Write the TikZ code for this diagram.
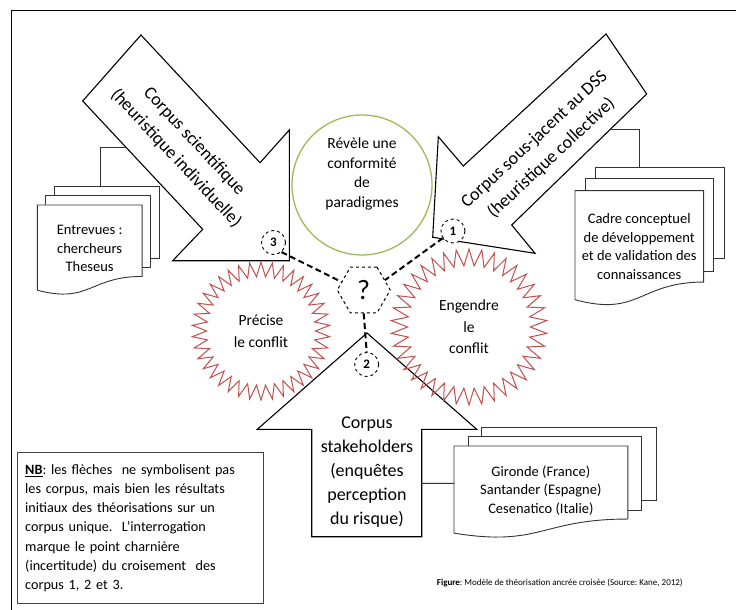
\documentclass[tikz,border=0pt]{standalone}
\usepackage{fontspec}
\setmainfont{Carlito}
\usepackage{tikz}
\usepackage{xcolor}
\usetikzlibrary{shapes.geometric}

\definecolor{burstred}{HTML}{C0504D}
\definecolor{olivegreen}{HTML}{9BBB59}

\begin{document}
\frenchspacing
\begin{tikzpicture}[x=1pt, y=-1pt]

    % Define style for different elements
    \tikzstyle{bigarrow} = [draw=black, line width=1.1pt, line join=miter]
    \tikzstyle{arrowtext} = [align=center, font=\fontsize{18}{25}\selectfont]
    \tikzstyle{sheet} = [draw=black!80, line width=0.9pt, fill=white]
    \tikzstyle{doctext} = [align=center, font=\fontsize{14.5}{18.8}\selectfont]
    \tikzstyle{burst} = [star, star points=38, star point ratio=1.27, draw=burstred, line width=1pt, align=center, font=\fontsize{15.5}{21.5}\selectfont]
    \tikzstyle{link} = [line width=2pt, dash pattern=on 6pt off 3.5pt]
    \tikzstyle{numcirc} = [circle, draw, dashed, line width=0.9pt, fill=white, minimum size=24pt, inner sep=0pt, font=\bfseries\fontsize{13}{13}\selectfont]
    \tikzstyle{wire} = [draw=black!80, line width=0.9pt]

    \useasboundingbox (0,0) rectangle (736,610);
    \draw[line width=1.6pt] (11.5,610) -- (11.5,10.5) -- (736,10.5);

    % Draw the three corpus arrows
    \draw[bigarrow] (141,35) -- (260,162.7) -- (289.3,130) -- (289.3,260.7) -- (172.7,260.7) -- (202.7,229.3) -- (82.7,101) -- cycle;
    \draw[bigarrow] (606,34) -- (463.3,166) -- (438.3,136.7) -- (432.7,237.3) -- (535,253.3) -- (511.7,225) -- (646.7,94) -- cycle;
    \draw[bigarrow] (367,333) -- (476.7,429.3) -- (421.7,429.3) -- (421.7,536.7) -- (311.7,536.7) -- (311.7,429.3) -- (257.3,429.3) -- cycle;
    \node[arrowtext, rotate=-47] (scitext) at (185,150) {Corpus scientifique\\(heuristique individuelle)};
    \node[arrowtext, rotate=43] (dsstext) at (543,149) {Corpus sous-jacent au DSS\\(heuristique collective)};
    \node[arrowtext, font=\fontsize{18}{24}\selectfont] (staketext) at (367,472) {Corpus\\stakeholders\\(enquêtes\\perception\\du risque)};
    \coordinate (scijoin) at (126,147.3);
    \coordinate (dssjoin) at (610.4,129.3);
    \coordinate (stakejoin) at (421.7,483.3);

    % Document stacks
    \foreach \nm/\lx/\ty/\w/\h/\cx/\cy/\txt in {
        docsci/37.3/186.7/121.7/107.6/0.52/0/{Entrevues :\\chercheurs\\Theseus},
        docdss/575/167.3/149.3/137.6/0.43/0/{Cadre conceptuel\\de développement\\et de validation des\\connaissances},
        docstake/454/427.3/202/110/0/0.51/{Gironde (France)\\Santander (Espagne)\\Cesenatico (Italie)}}
    {
        \begin{scope}[shift={(\lx,\ty)}, x=\w*1pt, y=-\h*1pt]
            \filldraw[sheet] (0.138,0) rectangle (1,0.666);
            \filldraw[sheet] (0.071,0.084) rectangle (0.926,0.755);
            \filldraw[sheet] (0,0.17) -- (0.861,0.17) -- (0.861,0.834) .. controls (0.43,0.834) and (0.43,1.09) .. (0,0.962) -- cycle;
            \node[doctext] (\nm) at (0.43,0.575) {\txt};
            \coordinate (\nm-link) at (\cx,\cy);
        \end{scope}
    }
    \draw[wire] (docsci-link) |- (scijoin);
    \draw[wire] (docdss-link) |- (dssjoin);
    \draw[wire] (docstake-link) -- (stakejoin);

    % Centre: circle, bursts and question mark
    \node[circle, draw=olivegreen, line width=1.3pt, minimum size=140pt] (conform) at (362,185) {};
    \node[align=center, font=\fontsize{15.5}{19.4}\selectfont] (conformtext) at (362,174) {Révèle une\\conformité\\de\\paradigmes};
    \node[burst, minimum size=138pt] (precise) at (261,331) {Précise\\le conflit};
    \node[burst, minimum size=156pt] (engendre) at (469,327) {Engendre\\le\\conflit};
    \node[regular polygon, regular polygon sides=6, draw, dashed, line width=1pt, fill=white, minimum size=53pt, inner sep=0pt, font=\fontsize{28}{28}\selectfont] (hexq) at (363.7,290) {?};
    \node[numcirc] (num3) at (273.5,242.5) {3};
    \node[numcirc] (num1) at (453,231) {1};
    \node[numcirc] (num2) at (366.7,364.5) {2};
    \draw[link] (num3.-50) -- (hexq.160);
    \draw[link] (num1.215) -- (hexq.25);
    \draw[link] (hexq.south) -- (num2.north);

    % Note and caption
    \node[draw=black!75, line width=0.8pt, fill=white, anchor=north west, minimum height=151pt, text width=231pt, inner xsep=7.5pt, align=left, font=\fontsize{14.2}{19.2}\selectfont] (nbnote) at (17.3,452.3) {\underline{\textbf{NB}}: les flèches~ ne symbolisent pas\\les corpus, mais bien les résultats\\initiaux des théorisations sur un\\corpus unique.~ L’interrogation\\marque le point charnière\\(incertitude) du croisement~ des\\corpus 1, 2 et 3.};
    \node[anchor=west, inner sep=0pt, font=\fontsize{9}{11}\selectfont] (caption) at (436.7,582.7) {\textbf{Figure}: Modèle de théorisation ancrée croisée (Source: Kane, 2012)};

\end{tikzpicture}
\end{document}
